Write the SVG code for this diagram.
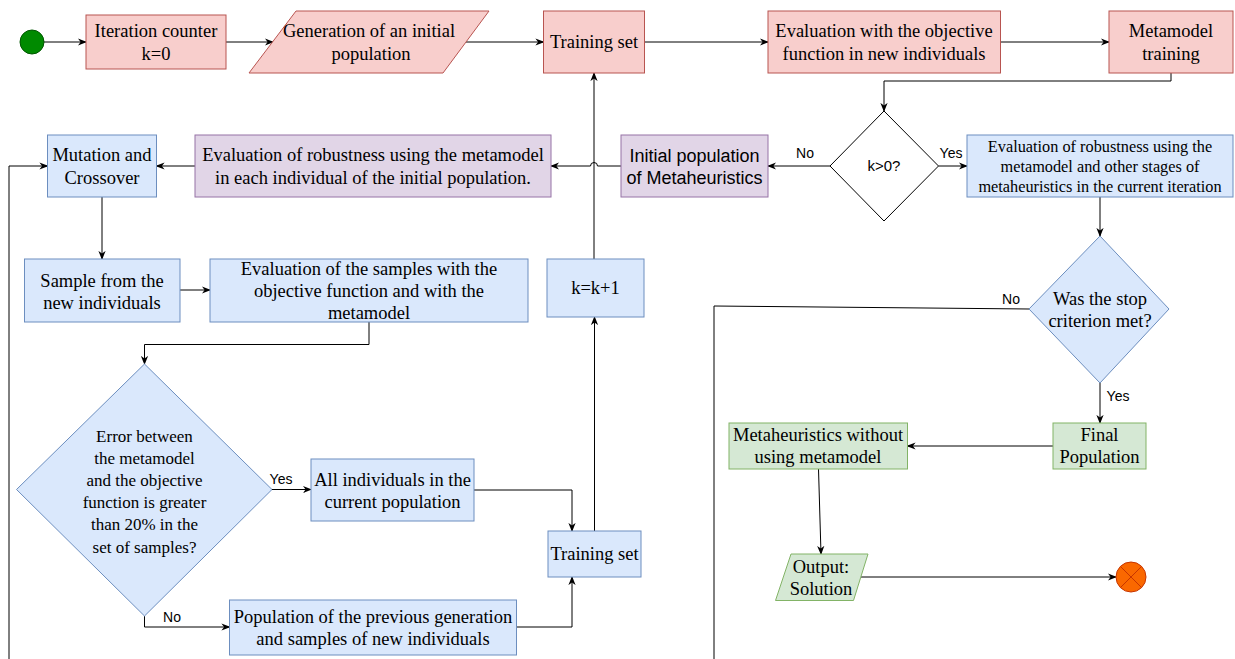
<svg xmlns="http://www.w3.org/2000/svg" width="1235" height="659" viewBox="0 0 1235 659">
<style>
.red{fill:#f8cecc;stroke:#b85450;stroke-width:1}
.blue{fill:#dae8fc;stroke:#6c8ebf;stroke-width:1}
.purple{fill:#e1d5e7;stroke:#9673a6;stroke-width:1}
.green{fill:#d5e8d4;stroke:#82b366;stroke-width:1}
.white{fill:#ffffff;stroke:#000000;stroke-width:1}
.t{font-family:"Liberation Serif","Times New Roman",serif;font-size:18.5px;fill:#000;text-anchor:middle}
.ts{font-family:"Liberation Serif","Times New Roman",serif;font-size:16.3px;fill:#000;text-anchor:middle}
.td{font-family:"Liberation Serif","Times New Roman",serif;font-size:17px;fill:#000;text-anchor:middle}
.a{font-family:"Liberation Sans",Arial,sans-serif;font-size:18px;fill:#000;text-anchor:middle}
.lbl{font-family:"Liberation Sans",Arial,sans-serif;font-size:14px;fill:#000;text-anchor:middle}
.c{fill:none;stroke:#000;stroke-width:1}
.arr{marker-end:url(#ah)}
</style>
<defs>
<marker id="ah" viewBox="0 0 10 10" refX="9" refY="5" markerWidth="9" markerHeight="9" markerUnits="userSpaceOnUse" orient="auto">
<path d="M0,1 L10,5 L0,9 L3,5 Z" fill="#000"/>
</marker>
</defs>
<rect width="1235" height="659" fill="#ffffff"/>

<g id="connectors">
<path class="c arr" d="M44,42 L86,42"/>
<path class="c arr" d="M226,42 L273,42"/>
<path class="c arr" d="M466,42 L543.5,42"/>
<path class="c arr" d="M644.5,42 L768,42"/>
<path class="c arr" d="M1000.5,42 L1109,42"/>
<path class="c arr" d="M1171,73 L1171,81 L884,81 L884,111"/>
<path class="c arr" d="M830,166 L768,166"/>
<path class="c arr" d="M938.5,166 L967,166"/>
<path class="c arr" d="M1100,197 L1100,236"/>
<path class="c arr" d="M621,166 L597.5,166 A3.5,3.5 0 0 0 590.5,166 L551,166"/>
<path class="c arr" d="M195,166 L156.5,166"/>
<path class="c arr" d="M102,197 L102,259"/>
<path class="c arr" d="M180,290 L210,290"/>
<path class="c arr" d="M369,322 L369,344.5 L144.5,344.5 L144.5,364"/>
<path class="c arr" d="M272,489.5 L311,489.5"/>
<path class="c arr" d="M474,490 L572,490 L572,531"/>
<path class="c arr" d="M144.5,616 L144.5,627 L229.5,627"/>
<path class="c arr" d="M516.5,627 L572,627 L572,577"/>
<path class="c arr" d="M594.5,531 L594.5,317"/>
<path class="c arr" d="M594,259 L594,73"/>
<path class="c arr" d="M1029,309 L714,306 L714,700 L9,700 L9,166 L47.5,166"/>
<path class="c arr" d="M1100,383 L1100,423"/>
<path class="c arr" d="M1053,446 L907.5,446"/>
<path class="c arr" d="M818.5,469 L821,554"/>
<path class="c arr" d="M861,577 L1116,577"/>
</g>

<g id="start"><circle cx="32" cy="42" r="12" fill="#008a00" stroke="#005700"/></g>

<g id="iteration-counter">
<rect class="red" x="86" y="15" width="140" height="54"/>
<text class="t" x="156" y="37">Iteration counter</text>
<text class="t" x="156" y="60">k=0</text>
</g>

<g id="generation">
<polygon class="red" points="296,11 489,11 443,73 249,73"/>
<text class="t" x="369" y="37">Generation of an initial</text>
<text class="t" x="371" y="60">population</text>
</g>

<g id="training-set-top">
<rect class="red" x="543.5" y="11" width="101" height="62"/>
<text class="t" x="594" y="48">Training set</text>
</g>

<g id="evaluation-objective">
<rect class="red" x="768" y="11" width="232.5" height="62"/>
<text class="t" x="884" y="37">Evaluation with the objective</text>
<text class="t" x="884" y="60">function in new individuals</text>
</g>

<g id="metamodel-training">
<rect class="red" x="1109" y="11" width="124" height="62"/>
<text class="t" x="1171" y="37">Metamodel</text>
<text class="t" x="1171" y="60">training</text>
</g>

<g id="k-decision">
<polygon class="white" points="884,111 938.5,166 884,221 830,166"/>
<text class="lbl" x="884" y="171" style="font-size:15px">k&gt;0?</text>
</g>
<text class="lbl" x="805" y="158">No</text>
<text class="lbl" x="951" y="158">Yes</text>

<g id="initial-population">
<rect class="purple" x="621" y="135" width="147" height="62"/>
<text class="a" x="694.5" y="161.5">Initial population</text>
<text class="a" x="694.5" y="184">of Metaheuristics</text>
</g>

<g id="robustness-current">
<rect class="blue" x="967" y="135" width="266" height="62"/>
<text class="ts" x="1100" y="152">Evaluation of robustness using the</text>
<text class="ts" x="1100" y="172">metamodel and other stages of</text>
<text class="ts" x="1100" y="191.5">metaheuristics in the current iteration</text>
</g>

<g id="robustness-initial">
<rect class="purple" x="195" y="135" width="356" height="62"/>
<text class="t" x="373" y="161">Evaluation of robustness using the metamodel</text>
<text class="t" x="373" y="184">in each individual of the initial population.</text>
</g>

<g id="mutation">
<rect class="blue" x="47.5" y="135" width="109" height="62"/>
<text class="t" x="102" y="161">Mutation and</text>
<text class="t" x="102" y="184">Crossover</text>
</g>

<g id="sample">
<rect class="blue" x="24.5" y="259" width="155.5" height="63"/>
<text class="t" x="102" y="287">Sample from the</text>
<text class="t" x="102" y="309">new individuals</text>
</g>

<g id="evaluation-samples">
<rect class="blue" x="210" y="259" width="318" height="63"/>
<text class="t" x="369" y="274.5">Evaluation of the samples with the</text>
<text class="t" x="369" y="297">objective function and with the</text>
<text class="t" x="369" y="319">metamodel</text>
</g>

<g id="k-increment">
<rect class="blue" x="547" y="259" width="97" height="58"/>
<text class="t" x="595.5" y="294">k=k+1</text>
</g>

<g id="error-decision">
<polygon class="blue" points="144.5,364 272,489.5 144.5,616 16.5,489.5"/>
<text class="td" x="144.5" y="442">Error between</text>
<text class="td" x="144.5" y="464">the metamodel</text>
<text class="td" x="144.5" y="486">and the objective</text>
<text class="td" x="144.5" y="508">function is greater</text>
<text class="td" x="144.5" y="530">than 20% in the</text>
<text class="td" x="144.5" y="552.5">set of samples?</text>
</g>
<text class="lbl" x="281" y="484">Yes</text>
<text class="lbl" x="172" y="622">No</text>

<g id="all-individuals">
<rect class="blue" x="311" y="459" width="163" height="62"/>
<text class="t" x="392.5" y="486">All individuals in the</text>
<text class="t" x="392.5" y="508">current population</text>
</g>

<g id="training-set-bottom">
<rect class="blue" x="548" y="531" width="93" height="46"/>
<text class="t" x="594.5" y="560">Training set</text>
</g>

<g id="previous-population">
<rect class="blue" x="229.5" y="600" width="287" height="55"/>
<text class="t" x="373" y="623">Population of the previous generation</text>
<text class="t" x="373" y="645">and samples of new individuals</text>
</g>

<g id="stop-decision">
<polygon class="blue" points="1100,236 1169,309 1100,383 1029,309"/>
<text class="t" x="1100" y="305">Was the stop</text>
<text class="t" x="1100" y="327">criterion met?</text>
</g>
<text class="lbl" x="1011" y="304">No</text>
<text class="lbl" x="1118" y="401">Yes</text>

<g id="final-population">
<rect class="green" x="1053" y="423" width="93" height="46"/>
<text class="t" x="1099.5" y="441">Final</text>
<text class="t" x="1099.5" y="463">Population</text>
</g>

<g id="metaheuristics-without">
<rect class="green" x="729" y="423" width="178.5" height="46"/>
<text class="t" x="818" y="441">Metaheuristics without</text>
<text class="t" x="818" y="463">using metamodel</text>
</g>

<g id="output">
<polygon class="green" points="791,554 868,554 853.5,600.5 775.5,600.5"/>
<text class="t" x="821" y="573">Output:</text>
<text class="t" x="821" y="595">Solution</text>
</g>

<g id="end">
<circle cx="1131" cy="577" r="15" fill="#fa6800" stroke="#c73500"/>
<path d="M1120.4,566.4 L1141.6,587.6 M1141.6,566.4 L1120.4,587.6" stroke="#c73500" stroke-width="1" fill="none"/>
</g>
</svg>
